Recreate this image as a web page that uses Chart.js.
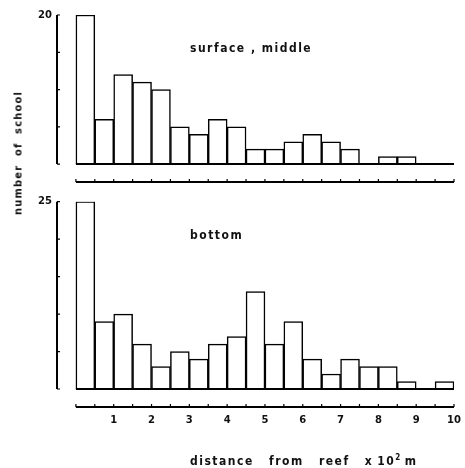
<!DOCTYPE html>
<html>
<head>
<meta charset="utf-8">
<script src="https://cdn.jsdelivr.net/npm/chart.js@4.4.1/dist/chart.umd.min.js"></script>
<style>
  html, body { margin: 0; padding: 0; background: #fff; }
  #wrap { position: relative; width: 465px; height: 468px; overflow: hidden; font-family: "DejaVu Sans Condensed", "DejaVu Sans", sans-serif; font-weight: bold; color: #111; }
  .panel { position: absolute; left: 0; width: 465px; }
  .txt { position: absolute; white-space: pre; font-size: 12px; letter-spacing: 1.5px; line-height: 1; }
</style>
</head>
<body>
<div id="wrap">
  <div class="panel" style="top:0;height:195px"><canvas id="topChart" width="465" height="195"></canvas></div>
  <div class="panel" style="top:195px;height:273px"><canvas id="bottomChart" width="465" height="273"></canvas></div>
  <div class="txt" style="left:190px;top:42px">surface , middle</div>
  <div class="txt" style="left:190px;top:229px">bottom</div>
  <div class="txt" style="left:190px;top:454px;word-spacing:10px">distance from reef x<span style="margin-left:4px">10</span><sup style="font-size:8px">2</sup><span style="margin-left:3px">m</span></div>
  <div class="txt" style="left:18px;top:153px;transform:translate(-50%,-50%) rotate(-90deg);font-size:11px;letter-spacing:1.2px;word-spacing:4px">number of school</div>
</div>
<script>
// bin centres (x 10^2 m), 0.5 wide bins
const distanceBins = [0.25, 0.75, 1.25, 1.75, 2.25, 2.75, 3.25, 3.75, 4.25, 4.75,
                      5.25, 5.75, 6.25, 6.75, 7.25, 7.75, 8.25, 8.75, 9.25, 9.75];
const surfaceMiddle = [20, 6, 12, 11, 10, 5, 4, 6, 5, 2, 2, 3, 4, 3, 2, 0, 1, 1, 0, 0];
const bottomLayer = [25, 9, 10, 6, 3, 5, 4, 6, 7, 13, 6, 9, 4, 2, 4, 3, 3, 1, 0, 1];
const xTickLabels = [1, 2, 3, 4, 5, 6, 7, 8, 9, 10];

const fontSpec = { family: 'DejaVu Sans', size: 10, weight: 'bold' };

// axis lines and inward tick marks, positioned from the chart's scales
const axisLines = {
    id: 'axisLines',
    afterDraw(chart) {
        const { ctx, chartArea, scales } = chart;
        const x = scales.x, y = scales.y;
        const x0 = x.getPixelForValue(0), x1 = x.getPixelForValue(10);
        const yZero = y.getPixelForValue(0);
        ctx.save();
        ctx.strokeStyle = '#000';
        ctx.lineWidth = 2;
        ctx.beginPath();
        ctx.moveTo(chartArea.left, yZero);
        ctx.lineTo(chartArea.left, y.getPixelForValue(y.max));
        ctx.moveTo(x0, yZero);
        ctx.lineTo(x1, yZero);
        ctx.moveTo(x0, chartArea.bottom);
        ctx.lineTo(x1, chartArea.bottom);
        ctx.stroke();
        ctx.lineWidth = 1.2;
        ctx.beginPath();
        y.ticks.forEach(t => {
            const py = y.getPixelForValue(t.value);
            ctx.moveTo(chartArea.left, py);
            ctx.lineTo(chartArea.left + 3, py);
        });
        x.ticks.forEach(t => {
            const px = x.getPixelForValue(t.value);
            ctx.moveTo(px, chartArea.bottom);
            ctx.lineTo(px, chartArea.bottom - 3);
        });
        ctx.stroke();
        ctx.restore();
    }
};

function makeChart(id, values, yMax, padTop, xHeight, showLabels) {
    return new Chart(document.getElementById(id), {
        type: 'bar',
        data: {
            datasets: [{
                data: distanceBins.map((d, i) => ({ x: d, y: values[i] })),
                backgroundColor: '#fff',
                borderColor: '#000',
                borderWidth: 1.5,
                barPercentage: 1,
                categoryPercentage: 1
            }]
        },
        options: {
            responsive: false,
            animation: false,
            layout: { padding: { left: 0, right: 11, top: padTop, bottom: 0 } },
            plugins: { legend: { display: false }, tooltip: { enabled: false } },
            scales: {
                x: {
                    type: 'linear',
                    offset: false,
                    min: -0.5,
                    max: 10,
                    border: { display: false },
                    grid: { display: false, drawTicks: false },
                    ticks: {
                        stepSize: 0.5,
                        display: showLabels,
                        padding: 7,
                        color: '#111',
                        font: fontSpec,
                        maxRotation: 0,
                        autoSkip: false,
                        callback: v => xTickLabels.includes(v) ? String(v) : ''
                    },
                    afterBuildTicks: s => { s.ticks = s.ticks.filter(t => t.value >= 0); },
                    afterFit: s => { s.height = xHeight; s.paddingLeft = 0; s.paddingRight = 0; }
                },
                y: {
                    min: -2.4,
                    max: yMax,
                    border: { display: false },
                    grid: { display: false, drawTicks: false },
                    ticks: {
                        stepSize: 5,
                        padding: 5,
                        color: '#111',
                        font: fontSpec,
                        callback: v => v === yMax ? String(v) : ''
                    },
                    afterBuildTicks: s => { s.ticks = s.ticks.filter(t => t.value >= 0); },
                    afterFit: s => { s.width = 57; s.paddingTop = 0; s.paddingBottom = 0; }
                }
            }
        },
        plugins: [axisLines]
    });
}

makeChart('topChart', surfaceMiddle, 20, 15, 13, false);
makeChart('bottomChart', bottomLayer, 25, 6.7, 61, true);
</script>
</body>
</html>
